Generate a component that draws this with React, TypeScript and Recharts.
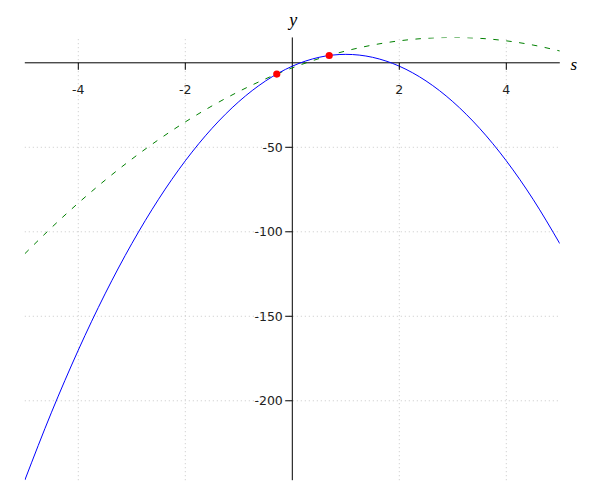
import React from 'react'
import { ComposedChart, Line, Scatter, XAxis, YAxis, ReferenceLine, ReferenceDot } from 'recharts'

// values
const xs = [-5, -4.5, -4, -3.5, -3, -2.5, -2, -1.5, -1, -0.5, 0, 0.5, 1, 1.5, 2, 2.5, 3, 3.5, 4, 4.5, 5]
const blueValues = [-247, -206.75, -170, -136.75, -107, -80.75, -58, -38.75, -23, -10.75, -2, 3.25, 5, 3.25, -2, -10.75, -23, -38.75, -58, -80.75, -107]
const greenValues = [-113, -97.5, -83, -69.5, -57, -45.5, -35, -25.5, -17, -9.5, -3, 2.5, 7, 10.5, 13, 14.5, 15, 14.5, 13, 10.5, 7]
const redX = [-0.29, 0.69]
const redY = [-6.65, 4.33]
const xTicks = [-4, -2, 2, 4]
const yTicks = [-50, -100, -150, -200]

const data = xs.map((x, i) => ({ x, f: blueValues[i], g: greenValues[i] }))
const redPoints = redX.map((x, i) => ({ x, y: redY[i] }))

const tickFont = { fontFamily: 'DejaVu Sans', fontSize: 12.5, fill: '#222' }
const axisFont = { fontFamily: 'Liberation Serif', fontStyle: 'italic', fontSize: 18, fill: '#000' }

const xTickShape = (label: number) => (p: any) => (
  <g>
    <line x1={p.cx} y1={p.cy} x2={p.cx} y2={p.cy + 7} stroke="#000" strokeWidth={1} />
    <text x={p.cx} y={p.cy + 31} textAnchor="middle" {...tickFont}>{label}</text>
  </g>
)

const yTickShape = (label: number) => (p: any) => (
  <g>
    <line x1={p.cx - 7} y1={p.cy} x2={p.cx} y2={p.cy} stroke="#000" strokeWidth={1} />
    <text x={p.cx - 9.5} y={p.cy + 4.4} textAnchor="end" {...tickFont}>{label}</text>
  </g>
)

export default function App() {
  return (
    <div style={{ position: 'absolute', left: 0, top: 0, width: 600, height: 500, background: 'white' }}>
      <ComposedChart width={600} height={500} data={data} margin={{ top: 37.45, right: 40.2, bottom: 19.8, left: 24.8 }}>
        <XAxis type="number" dataKey="x" domain={[-5, 5]} allowDataOverflow hide />
        <YAxis type="number" domain={[-247, 15]} allowDataOverflow hide />
        {xTicks.map(t => (
          <ReferenceLine key={'gx' + t} x={t} stroke="#c8c8c8" strokeDasharray="1 3" />
        ))}
        {yTicks.map(t => (
          <ReferenceLine key={'gy' + t} y={t} stroke="#c8c8c8" strokeDasharray="1 3" />
        ))}
        <ReferenceLine y={0} stroke="#000" strokeWidth={1} />
        <ReferenceLine x={0} stroke="#000" strokeWidth={1} />
        {xTicks.map(t => (
          <ReferenceDot key={'tx' + t} x={t} y={0} r={0} shape={xTickShape(t)} />
        ))}
        {yTicks.map(t => (
          <ReferenceDot key={'ty' + t} x={0} y={t} r={0} shape={yTickShape(t)} />
        ))}
        <ReferenceDot x={0} y={15} r={0} shape={(p: any) => (
          <text x={p.cx + 1} y={p.cy - 11.7} textAnchor="middle" {...axisFont}>y</text>
        )} />
        <ReferenceDot x={5} y={0} r={0} shape={(p: any) => (
          <text x={p.cx + 14} y={p.cy + 7.2} textAnchor="middle" {...axisFont} fontSize={17}>s</text>
        )} />
        <Line type="monotone" dataKey="g" stroke="#008000" strokeWidth={1} strokeDasharray="5.5 7.5" dot={false} isAnimationActive={false} />
        <Line type="monotone" dataKey="f" stroke="#0000ff" strokeWidth={1} dot={false} isAnimationActive={false} />
        <Scatter data={redPoints} dataKey="y" fill="#ff0000" isAnimationActive={false}
          shape={(p: any) => <circle cx={p.cx} cy={p.cy} r={3.6} fill="#ff0000" />} />
      </ComposedChart>
    </div>
  )
}
